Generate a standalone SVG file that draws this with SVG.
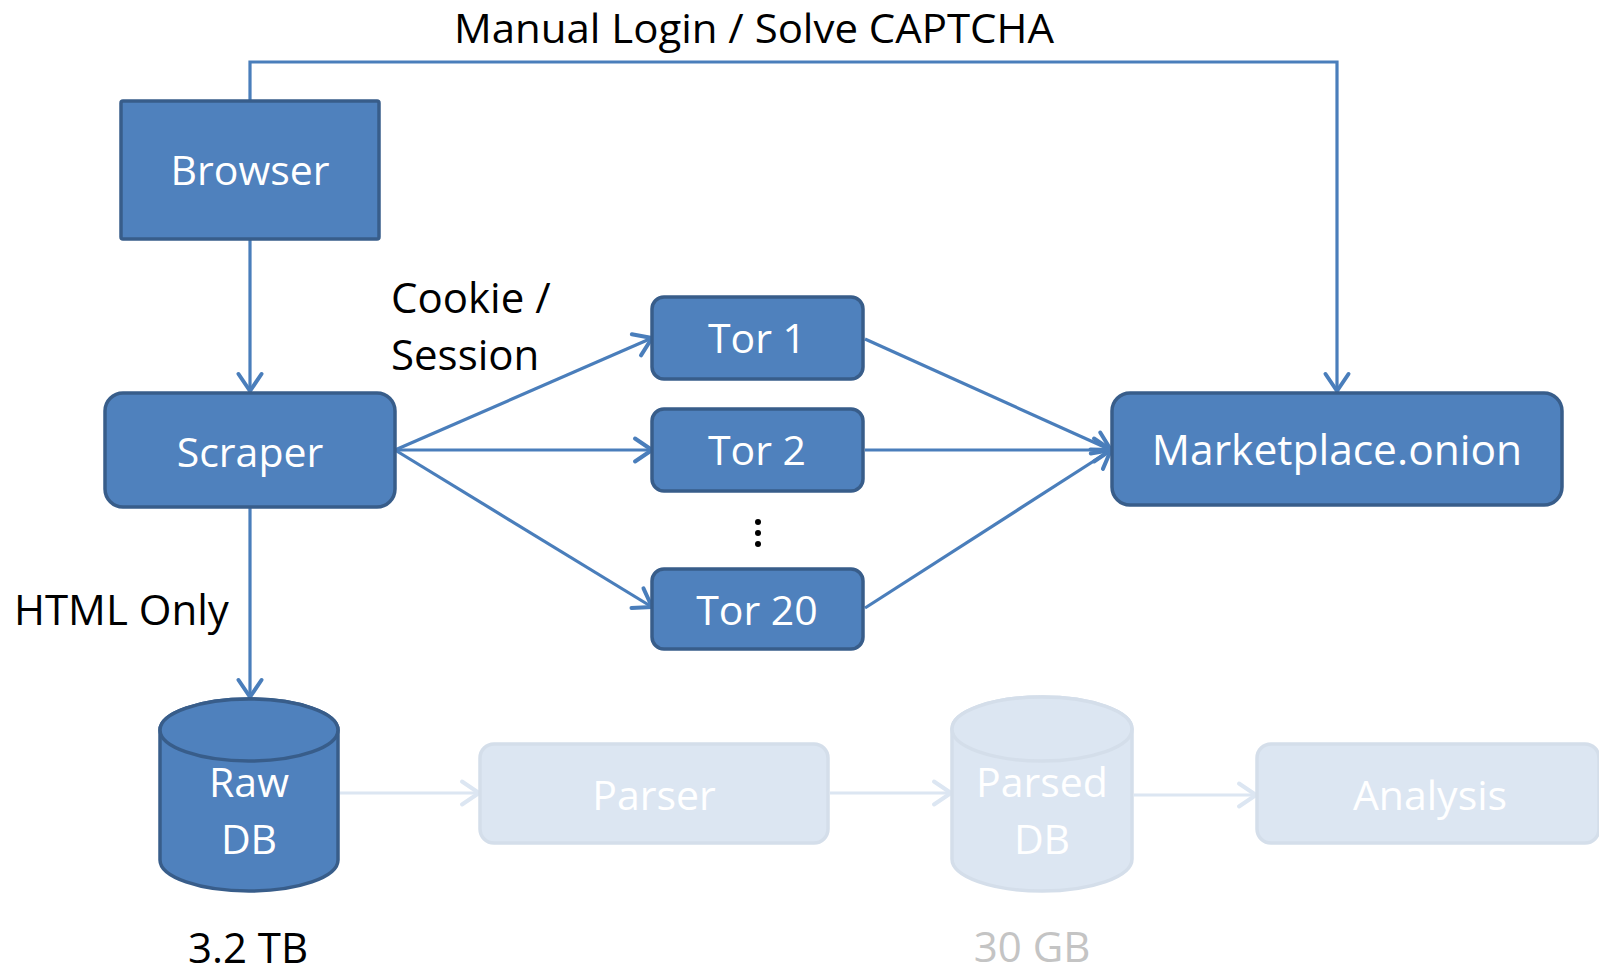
<svg xmlns="http://www.w3.org/2000/svg" width="1599" height="967" viewBox="0 0 1599 967">
<style>
.node{fill:#4f81bd;stroke:#385d8a;stroke-width:3.5}
.lnode{fill:#dce6f2;stroke:#d4deea;stroke-width:3.5}
.wt{font-family:"Open Sans","Liberation Sans",sans-serif;font-size:41px;fill:#ffffff;text-anchor:middle}
.bt{font-family:"Open Sans","Liberation Sans",sans-serif;font-size:42px;fill:#000000}
.conn{fill:none;stroke:#4a7ebb;stroke-width:3.2}
.lconn{fill:none;stroke:#dce6f2;stroke-width:3.2}
</style>
<defs>
<marker id="ah" markerUnits="userSpaceOnUse" markerWidth="40" markerHeight="40" viewBox="-20 -20 40 40" refX="0" refY="0" orient="auto">
<path d="M-17,-11.5 L0,0 L-17,11.5" fill="none" stroke="#4a7ebb" stroke-width="4" stroke-linecap="round" stroke-linejoin="round"/>
</marker>
<marker id="lah" markerUnits="userSpaceOnUse" markerWidth="40" markerHeight="40" viewBox="-20 -20 40 40" refX="0" refY="0" orient="auto">
<path d="M-17,-11.5 L0,0 L-17,11.5" fill="none" stroke="#dce6f2" stroke-width="4" stroke-linecap="round" stroke-linejoin="round"/>
</marker>
</defs>
<rect width="1599" height="967" fill="#ffffff"/>

<g id="connectors">
<polyline class="conn" points="250,101 250,62 1337,62 1337,391" marker-end="url(#ah)"/>
<line class="conn" x1="250" y1="239" x2="250" y2="391" marker-end="url(#ah)"/>
<line class="conn" x1="250" y1="507" x2="250" y2="697" marker-end="url(#ah)"/>
<line class="conn" x1="395" y1="450" x2="652" y2="338" marker-end="url(#ah)"/>
<line class="conn" x1="395" y1="450" x2="652" y2="450" marker-end="url(#ah)"/>
<line class="conn" x1="395" y1="450" x2="652" y2="607" marker-end="url(#ah)"/>
<line class="conn" x1="865" y1="339" x2="1111" y2="450" marker-end="url(#ah)"/>
<line class="conn" x1="865" y1="450" x2="1111" y2="450" marker-end="url(#ah)"/>
<line class="conn" x1="865" y1="608" x2="1111" y2="450" marker-end="url(#ah)"/>
<line class="lconn" x1="340" y1="793" x2="479" y2="793" marker-end="url(#lah)"/>
<line class="lconn" x1="830" y1="793" x2="951" y2="793" marker-end="url(#lah)"/>
<line class="lconn" x1="1134" y1="795" x2="1256" y2="795" marker-end="url(#lah)"/>
</g>

<text class="bt" x="754" y="43" text-anchor="middle" style="font-size:40px" textLength="600" lengthAdjust="spacingAndGlyphs">Manual Login / Solve CAPTCHA</text>
<text class="bt" x="391" y="313">Cookie /</text>
<text class="bt" x="391" y="370">Session</text>
<text class="bt" x="14" y="625">HTML Only</text>

<g id="browser">
<rect class="node" x="121" y="101" width="258" height="138" rx="2"/>
<text class="wt" x="250" y="185">Browser</text>
</g>
<g id="scraper">
<rect class="node" x="105" y="393" width="290" height="114" rx="18"/>
<text class="wt" x="250" y="467">Scraper</text>
</g>
<g id="tor1">
<rect class="node" x="652" y="297" width="211" height="82" rx="12"/>
<text class="wt" x="757" y="353">Tor 1</text>
</g>
<g id="tor2">
<rect class="node" x="652" y="409" width="211" height="82" rx="12"/>
<text class="wt" x="757" y="465">Tor 2</text>
</g>
<g id="dots">
<circle cx="758" cy="522" r="3" fill="#000"/>
<circle cx="758" cy="533" r="3" fill="#000"/>
<circle cx="758" cy="544" r="3" fill="#000"/>
</g>
<g id="tor20">
<rect class="node" x="652" y="569" width="211" height="80" rx="12"/>
<text class="wt" x="757" y="625">Tor 20</text>
</g>
<g id="marketplace">
<rect class="node" x="1112" y="393" width="450" height="112" rx="18"/>
<text class="wt" x="1337" y="465" style="font-size:42.5px">Marketplace.onion</text>
</g>
<g id="rawdb">
<path class="node" d="M160,730 L160,860 A89,31 0 0 0 338,860 L338,730 A89,31 0 0 0 160,730 Z"/>
<ellipse class="node" cx="249" cy="730" rx="89" ry="31"/>
<text class="wt" x="249" y="797">Raw</text>
<text class="wt" x="249" y="854">DB</text>
<text class="bt" x="248" y="963" text-anchor="middle">3.2 TB</text>
</g>
<g id="parser">
<rect class="lnode" x="480" y="744" width="348" height="99" rx="14"/>
<text class="wt" x="654" y="810">Parser</text>
</g>
<g id="parseddb">
<path class="lnode" d="M952,729 L952,859 A90,32 0 0 0 1132,859 L1132,729 A90,32 0 0 0 952,729 Z"/>
<ellipse class="lnode" cx="1042" cy="729" rx="90" ry="32"/>
<text class="wt" x="1042" y="797">Parsed</text>
<text class="wt" x="1042" y="854">DB</text>
<text class="bt" x="1032" y="962" text-anchor="middle" style="fill:#c4c4c4">30 GB</text>
</g>
<g id="analysis">
<rect class="lnode" x="1257" y="744" width="342" height="99" rx="14"/>
<text class="wt" x="1430" y="810">Analysis</text>
</g>
</svg>
